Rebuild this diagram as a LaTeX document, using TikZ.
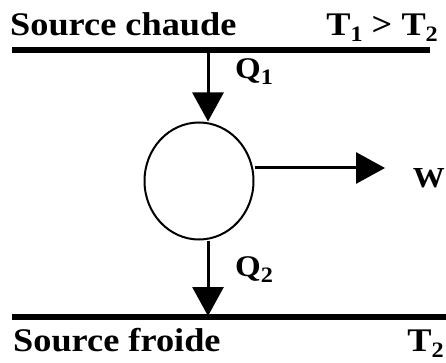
\documentclass[tikz,border=0pt]{standalone}
\usepackage{fontspec}
\setmainfont{Liberation Serif}
\newfontfamily\lblfont[FakeStretch=1.1]{Liberation Serif}
\newcommand\lsub[1]{\raisebox{-6pt}{\fontsize{22}{24}\selectfont #1}}
\usetikzlibrary{arrows.meta,shapes.geometric}
\tikzset{
  lbl/.style={inner sep=0pt, anchor=base west, font=\lblfont\fontsize{33}{36}\selectfont\bfseries},
  qlbl/.style={inner sep=0pt, anchor=base west, font=\lblfont\fontsize{30}{33}\selectfont\bfseries},
  source/.style={line width=6.5pt},
  flow/.style={line width=3pt, -{Triangle[length=29pt,width=31pt]}},
  engine/.style={ellipse, draw, line width=2pt, minimum width=109pt, minimum height=117pt, inner sep=0pt}
}
\begin{document}
\begin{tikzpicture}[x=1pt,y=-1pt]
\useasboundingbox (0,0) rectangle (446,363);
% sources
\coordinate (hotL) at (12,50);
\coordinate (hotR) at (430,50);
\coordinate (coldL) at (12,317);
\coordinate (coldR) at (446,317);
\draw[source] (hotL) -- (hotR);
\draw[source] (coldL) -- (coldR);
\node[lbl] (hot) at (10,36) {Source chaude};
\node[lbl, anchor=base east] (t12) at (438,36) {T\lsub{1} > T\lsub{2}};
\node[lbl] (cold) at (13,351) {Source froide};
\node[lbl, anchor=base east] (t2) at (444,351) {T\lsub{2}};
% engine
\node[engine] (eng) at (199,181) {};
\coordinate (qin) at (208,50);
\coordinate (qout) at (208,316);
\coordinate (wtip) at (385,168);
\draw[flow] (qin) -- (qin |- eng.north);
\draw[flow] (qin |- eng.south) -- (qout);
\draw[flow] (eng.east |- wtip) -- (wtip);
\node[qlbl] (q1) at (235,79) {Q\lsub{1}};
\node[qlbl] (q2) at (235,276) {Q\lsub{2}};
\node[inner sep=0pt, anchor=base east, font=\lblfont\fontsize{29}{32}\selectfont\bfseries] (w) at (445,187) {W};
\end{tikzpicture}
\end{document}
